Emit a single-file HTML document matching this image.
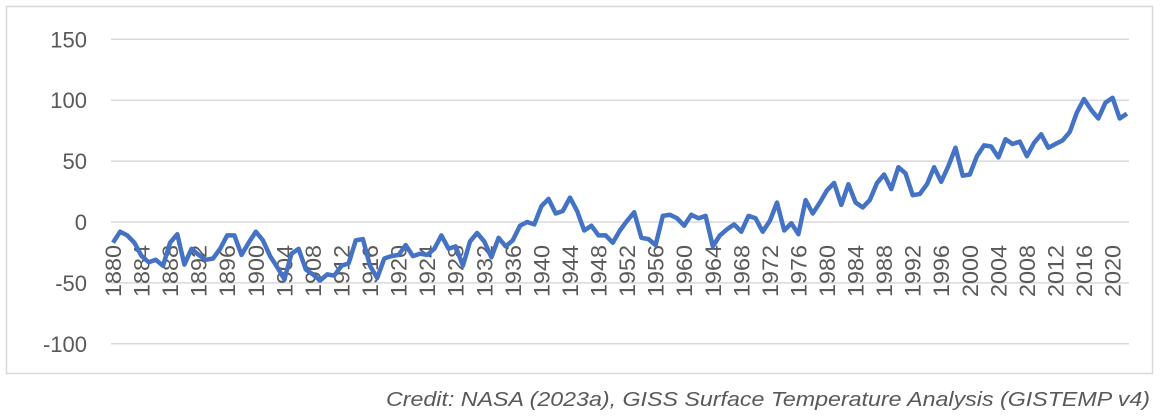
<!DOCTYPE html>
<html><head><meta charset="utf-8"><style>
body{margin:0;background:#fff;width:1161px;height:414px;overflow:hidden;font-family:"Liberation Sans",sans-serif}
</style></head><body>
<svg width="1161" height="414">
<rect x="6.5" y="6.5" width="1146" height="367" fill="#fff" stroke="#d9d9d9" stroke-width="1.5"/>
<g id="grid"></g><g id="ylab"></g><g id="xlab"></g>
<path id="line" fill="none" stroke="#4472c4" stroke-width="4.5" stroke-linejoin="round"/>
<text x="1150" y="406" text-anchor="end" font-size="20" font-style="italic" fill="#595959" textLength="764" lengthAdjust="spacingAndGlyphs">Credit: NASA (2023a), GISS Surface Temperature Analysis (GISTEMP v4)</text>
</svg>
<script>
const years=[];for(let y=1880;y<=2022;y++)years.push(y);
const values=[-17,-8,-11,-17,-28,-33,-31,-36,-17,-10,-35,-22,-27,-31,-30,-22,-11,-11,-27,-17,-8,-15,-28,-37,-47,-26,-22,-39,-43,-48,-43,-44,-36,-34,-15,-14,-36,-46,-30,-28,-27,-19,-28,-26,-27,-22,-11,-22,-20,-36,-16,-9,-16,-29,-13,-20,-15,-3,0,-2,13,19,7,9,20,9,-7,-3,-11,-11,-17,-7,1,8,-13,-14,-19,5,6,3,-3,6,3,5,-20,-11,-6,-2,-8,5,3,-8,1,16,-7,-1,-10,18,7,16,26,32,14,31,16,12,18,32,39,27,45,40,22,23,31,45,33,46,61,38,39,54,63,62,53,68,64,66,54,65,72,61,64,67,74,90,101,92,85,98,102,85,89];
const yTicks=[150,100,50,0,-50,-100];
const X=y=>113+(y-1880)*7.14;
const Y=v=>222-v*1.218;
const ns="http://www.w3.org/2000/svg";
const g=document.getElementById('grid'),yl=document.getElementById('ylab'),xl=document.getElementById('xlab');
yTicks.forEach(t=>{
 const l=document.createElementNS(ns,'line');
 l.setAttribute('x1',111);l.setAttribute('x2',1129);l.setAttribute('y1',Y(t));l.setAttribute('y2',Y(t));
 l.setAttribute('stroke','#d9d9d9');l.setAttribute('stroke-width','1.5');
 
 
 g.appendChild(l);
 const tx=document.createElementNS(ns,'text');
 tx.setAttribute('x',87);tx.setAttribute('y',Y(t)+8);tx.setAttribute('text-anchor','end');
 tx.setAttribute('font-size','22');tx.setAttribute('fill','#595959');tx.textContent=t;
 
 
 yl.appendChild(tx);
});
years.forEach(y=>{ if((y-1880)%4) return;
 const tx=document.createElementNS(ns,'text');
 tx.setAttribute('transform',`translate(${X(y)+8},245) rotate(-90)`);
 tx.setAttribute('text-anchor','end');tx.setAttribute('font-size','22');tx.setAttribute('fill','#595959');
 tx.setAttribute('textLength','52');tx.setAttribute('lengthAdjust','spacingAndGlyphs');
 tx.textContent=y;
 
 
 xl.appendChild(tx);
});
document.getElementById('line').setAttribute('d',values.map((v,i)=>(i?'L':'M')+X(years[i]).toFixed(1)+','+Y(v).toFixed(1)).join(''));
</script>
</body></html>
